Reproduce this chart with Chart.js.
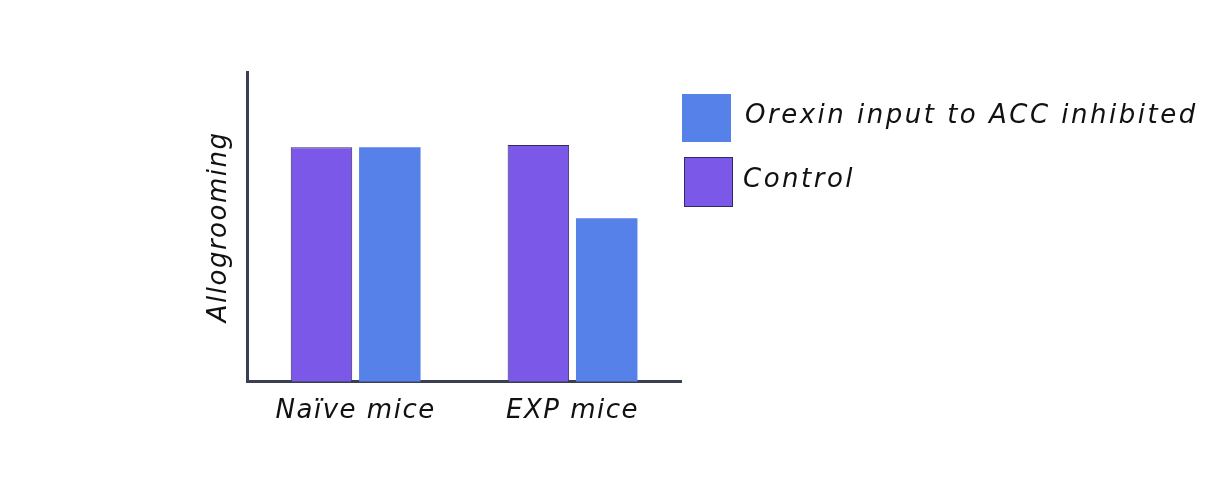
<!DOCTYPE html>
<html lang="en">
<head>
    <meta charset="UTF-8">
    <title>Allogrooming</title>
    <style>
        body { margin: 0; background: #fff; font-family: "DejaVu Sans", sans-serif; }
        #wrap { position: relative; width: 1224px; height: 479px; }
        #legend { position: absolute; left: 682px; top: 93px; font-style: oblique; font-size: 26px; letter-spacing: 2.5px; color: #111; }
        .item { display: flex; align-items: center; height: 49px; margin-bottom: 15px; }
        .item span { position: relative; top: -4px; }
        .box { width: 49px; height: 48px; margin-right: 14px; box-sizing: border-box; }
    </style>
</head>
<body>
<div id="wrap">
    <canvas id="grafico" width="1224" height="479"></canvas>
    <div id="legend"></div>
</div>
<script src="https://cdn.jsdelivr.net/npm/chart.js"></script>
<script>
    const categorie = ['Naïve mice', 'EXP mice'];
    const controllo = [75.7, 76.4];
    const orexina = [75.7, 52.8];
    const nomiSerie = ['Control', 'Orexin input to ACC inhibited'];

    const viola = '#7b58e8';
    const blu = '#5581e8';
    const assi = '#3b3f52';
    const font = { family: 'DejaVu Sans', size: 26, style: 'oblique' };

    // spaziatura lettere per il testo del canvas
    const spaziatura = {
        id: 'spaziatura',
        beforeDraw(chart) { chart.ctx.letterSpacing = '1.5px'; }
    };

    const ctx = document.getElementById('grafico').getContext('2d');
    const grafico = new Chart(ctx, {
        type: 'bar',
        data: {
            labels: categorie,
            datasets: [
                { label: nomiSerie[0], data: controllo, backgroundColor: viola, borderColor: '#2e2a66', borderWidth: 1, barPercentage: 0.9, categoryPercentage: 0.63 },
                { label: nomiSerie[1], data: orexina, backgroundColor: blu, borderWidth: 0, barPercentage: 0.9, categoryPercentage: 0.63 }
            ]
        },
        options: {
            responsive: false,
            animation: false,
            layout: { padding: { left: 204, right: 543, top: 72, bottom: 46 } },
            plugins: { legend: { display: false }, tooltip: { enabled: false } },
            scales: {
                x: {
                    grid: { display: false },
                    border: { display: true, color: assi, width: 3 },
                    ticks: { color: '#111', font: font, padding: 6 }
                },
                y: {
                    min: 0, max: 100,
                    grid: { display: false },
                    border: { display: true, color: assi, width: 3 },
                    ticks: { display: false },
                    title: { display: true, text: 'Allogrooming', color: '#111', font: font, padding: { top: 0, bottom: 4 } }
                }
            }
        },
        plugins: [spaziatura]
    });

    // legenda: prima Orexin, poi Control
    const legenda = document.getElementById('legend');
    [1, 0].forEach(i => {
        const ds = grafico.data.datasets[i];
        const riga = document.createElement('div');
        riga.className = 'item';
        const box = document.createElement('div');
        box.className = 'box';
        box.style.background = ds.backgroundColor;
        if (i === 0) { box.style.border = '1px solid #2e2a66'; box.style.marginLeft = '2px'; box.style.height = '50px'; box.style.marginRight = '10px'; }
        const testo = document.createElement('span');
        testo.textContent = ds.label;
        riga.appendChild(box);
        riga.appendChild(testo);
        legenda.appendChild(riga);
    });
</script>
</body>
</html>
